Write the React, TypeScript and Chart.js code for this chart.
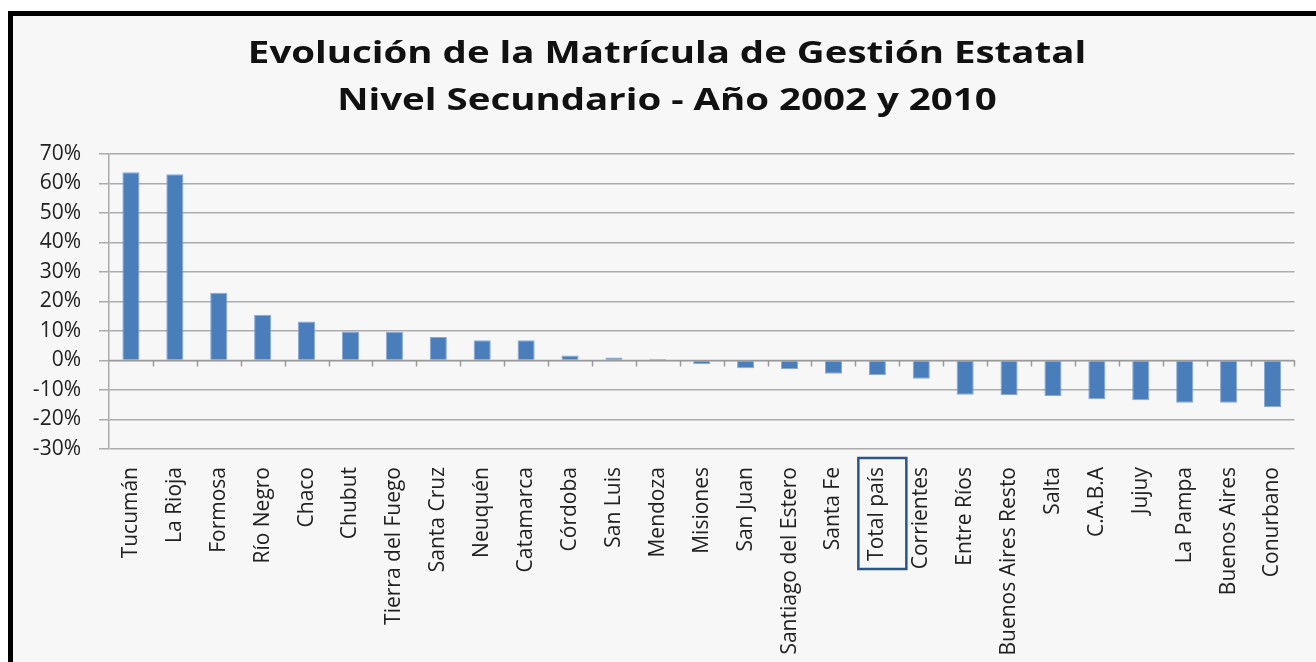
import React, { useEffect, useRef } from "react";
import { Chart, registerables } from "chart.js";

Chart.register(...registerables);

const categories: string[] = [
  "Tucumán", "La Rioja", "Formosa", "Río Negro", "Chaco", "Chubut",
  "Tierra del Fuego", "Santa Cruz", "Neuquén", "Catamarca", "Córdoba",
  "San Luis", "Mendoza", "Misiones", "San Juan", "Santiago del Estero",
  "Santa Fe", "Total país", "Corrientes", "Entre Ríos", "Buenos Aires Resto",
  "Salta", "C.A.B.A", "Jujuy", "La Pampa", "Buenos Aires", "Conurbano",
];

const variacion: number[] = [
  63.8, 63.1, 23.0, 15.5, 13.2, 9.8, 9.7, 8.0, 6.9, 6.9, 1.7, 1.0, 0.5,
  -1.3, -2.6, -2.9, -4.5, -4.9, -6.2, -11.6, -11.7, -12.0, -13.1, -13.5,
  -14.3, -14.3, -15.8,
];

const titleLines: string[] = [
  "Evolución de la Matrícula de Gestión Estatal",
  "Nivel Secundario - Año 2002 y 2010",
];

const highlighted = "Total país";
const yMin = -30;
const yMax = 70;
const yStep = 10;

const FONT = "'Open Sans', 'DejaVu Sans', sans-serif";
const X_LABEL_SIZE = 21;
const X_LABEL_PAD = 18;

const titlePlugin = {
  id: "stretchedTitle",
  afterDraw(chart: any) {
    const { ctx } = chart;
    const cx = 654;
    const ys = [38, 85];
    const sx = 1.24;
    ctx.save();
    ctx.fillStyle = "#111111";
    ctx.font = `bold 31px ${FONT}`;
    ctx.textAlign = "center";
    ctx.textBaseline = "middle";
    titleLines.forEach((line, i) => {
      ctx.save();
      ctx.translate(cx, ys[i]);
      ctx.scale(sx, 1);
      ctx.fillText(line, 0, 0);
      ctx.restore();
    });
    ctx.restore();
  },
};

const decorPlugin = {
  id: "decor",
  afterDatasetsDraw(chart: any) {
    const { ctx } = chart;
    const xs = chart.scales.x;
    const ys = chart.scales.y;
    const y0 = ys.getPixelForValue(0);
    ctx.save();
    ctx.strokeStyle = "#9A9A9A";
    ctx.lineWidth = 1.5;
    ctx.beginPath();
    ctx.moveTo(xs.left, y0);
    ctx.lineTo(xs.right, y0);
    for (let i = 1; i <= categories.length; i++) {
      const x = Math.round(xs.getPixelForValue(i - 0.5)) + 0.5;
      ctx.moveTo(x, y0);
      ctx.lineTo(x, y0 + 6);
    }
    ctx.stroke();
    ctx.restore();
  },
  afterDraw(chart: any) {
    const { ctx } = chart;
    const xs = chart.scales.x;
    const idx = categories.indexOf(highlighted);
    if (idx < 0) return;
    const x = xs.getPixelForValue(idx);
    ctx.save();
    ctx.font = `${X_LABEL_SIZE}px ${FONT}`;
    const w = ctx.measureText(highlighted).width;
    const top = xs.top + X_LABEL_PAD - 9;
    const bottom = xs.top + X_LABEL_PAD + w + 8;
    ctx.strokeStyle = "#2A5587";
    ctx.lineWidth = 2.5;
    ctx.beginPath();
    ctx.rect(x - 19, top, 48, bottom - top);
    ctx.stroke();
    ctx.restore();
  },
};

export default function App() {
  const ref = useRef<HTMLCanvasElement | null>(null);

  useEffect(() => {
    if (!ref.current) return;
    const chart = new Chart(ref.current, {
      type: "bar",
      data: {
        labels: categories,
        datasets: [
          {
            data: variacion,
            backgroundColor: "#4A7EBB",
            borderColor: "rgba(125,160,210,0.9)",
            borderWidth: 1,
            categoryPercentage: 1,
            barPercentage: 0.39,
          },
        ],
      },
      options: {
        animation: false,
        responsive: false,
        maintainAspectRatio: false,
        layout: { padding: { left: 0, right: 16, top: 138, bottom: 0 } },
        plugins: {
          legend: { display: false },
          tooltip: { enabled: false },
          title: { display: false },
        },
        scales: {
          x: {
            grid: { display: false, drawTicks: false, tickLength: 0 },
            border: { display: false },
            ticks: {
              autoSkip: false,
              minRotation: 90,
              maxRotation: 90,
              padding: X_LABEL_PAD,
              color: "#222222",
              font: { family: FONT, size: X_LABEL_SIZE },
            },
            afterFit(scale: any) {
              scale.height = 213;
            },
          },
          y: {
            min: yMin,
            max: yMax,
            grid: {
              color: "#ABABAB",
              lineWidth: 1.5,
              tickLength: 10,
              drawTicks: true,
            },
            border: { display: true, color: "#ABABAB", width: 1.5 },
            ticks: {
              stepSize: yStep,
              padding: 18,
              color: "#222222",
              font: { family: FONT, size: 21 },
              callback: (v: any) => `${v}%`,
            },
            afterFit(scale: any) {
              scale.width = 96;
            },
          },
        },
      },
      plugins: [decorPlugin, titlePlugin],
    });
    return () => chart.destroy();
  }, []);

  return (
    <div
      style={{
        position: "fixed",
        left: 8,
        top: 11,
        width: 1308,
        height: 651,
        borderLeft: "5px solid #000",
        borderTop: "5px solid #000",
        background: "#F7F7F7",
        boxSizing: "border-box",
      }}
    >
      <canvas ref={ref} width={1303} height={646} style={{ display: "block" }} />
    </div>
  );
}
